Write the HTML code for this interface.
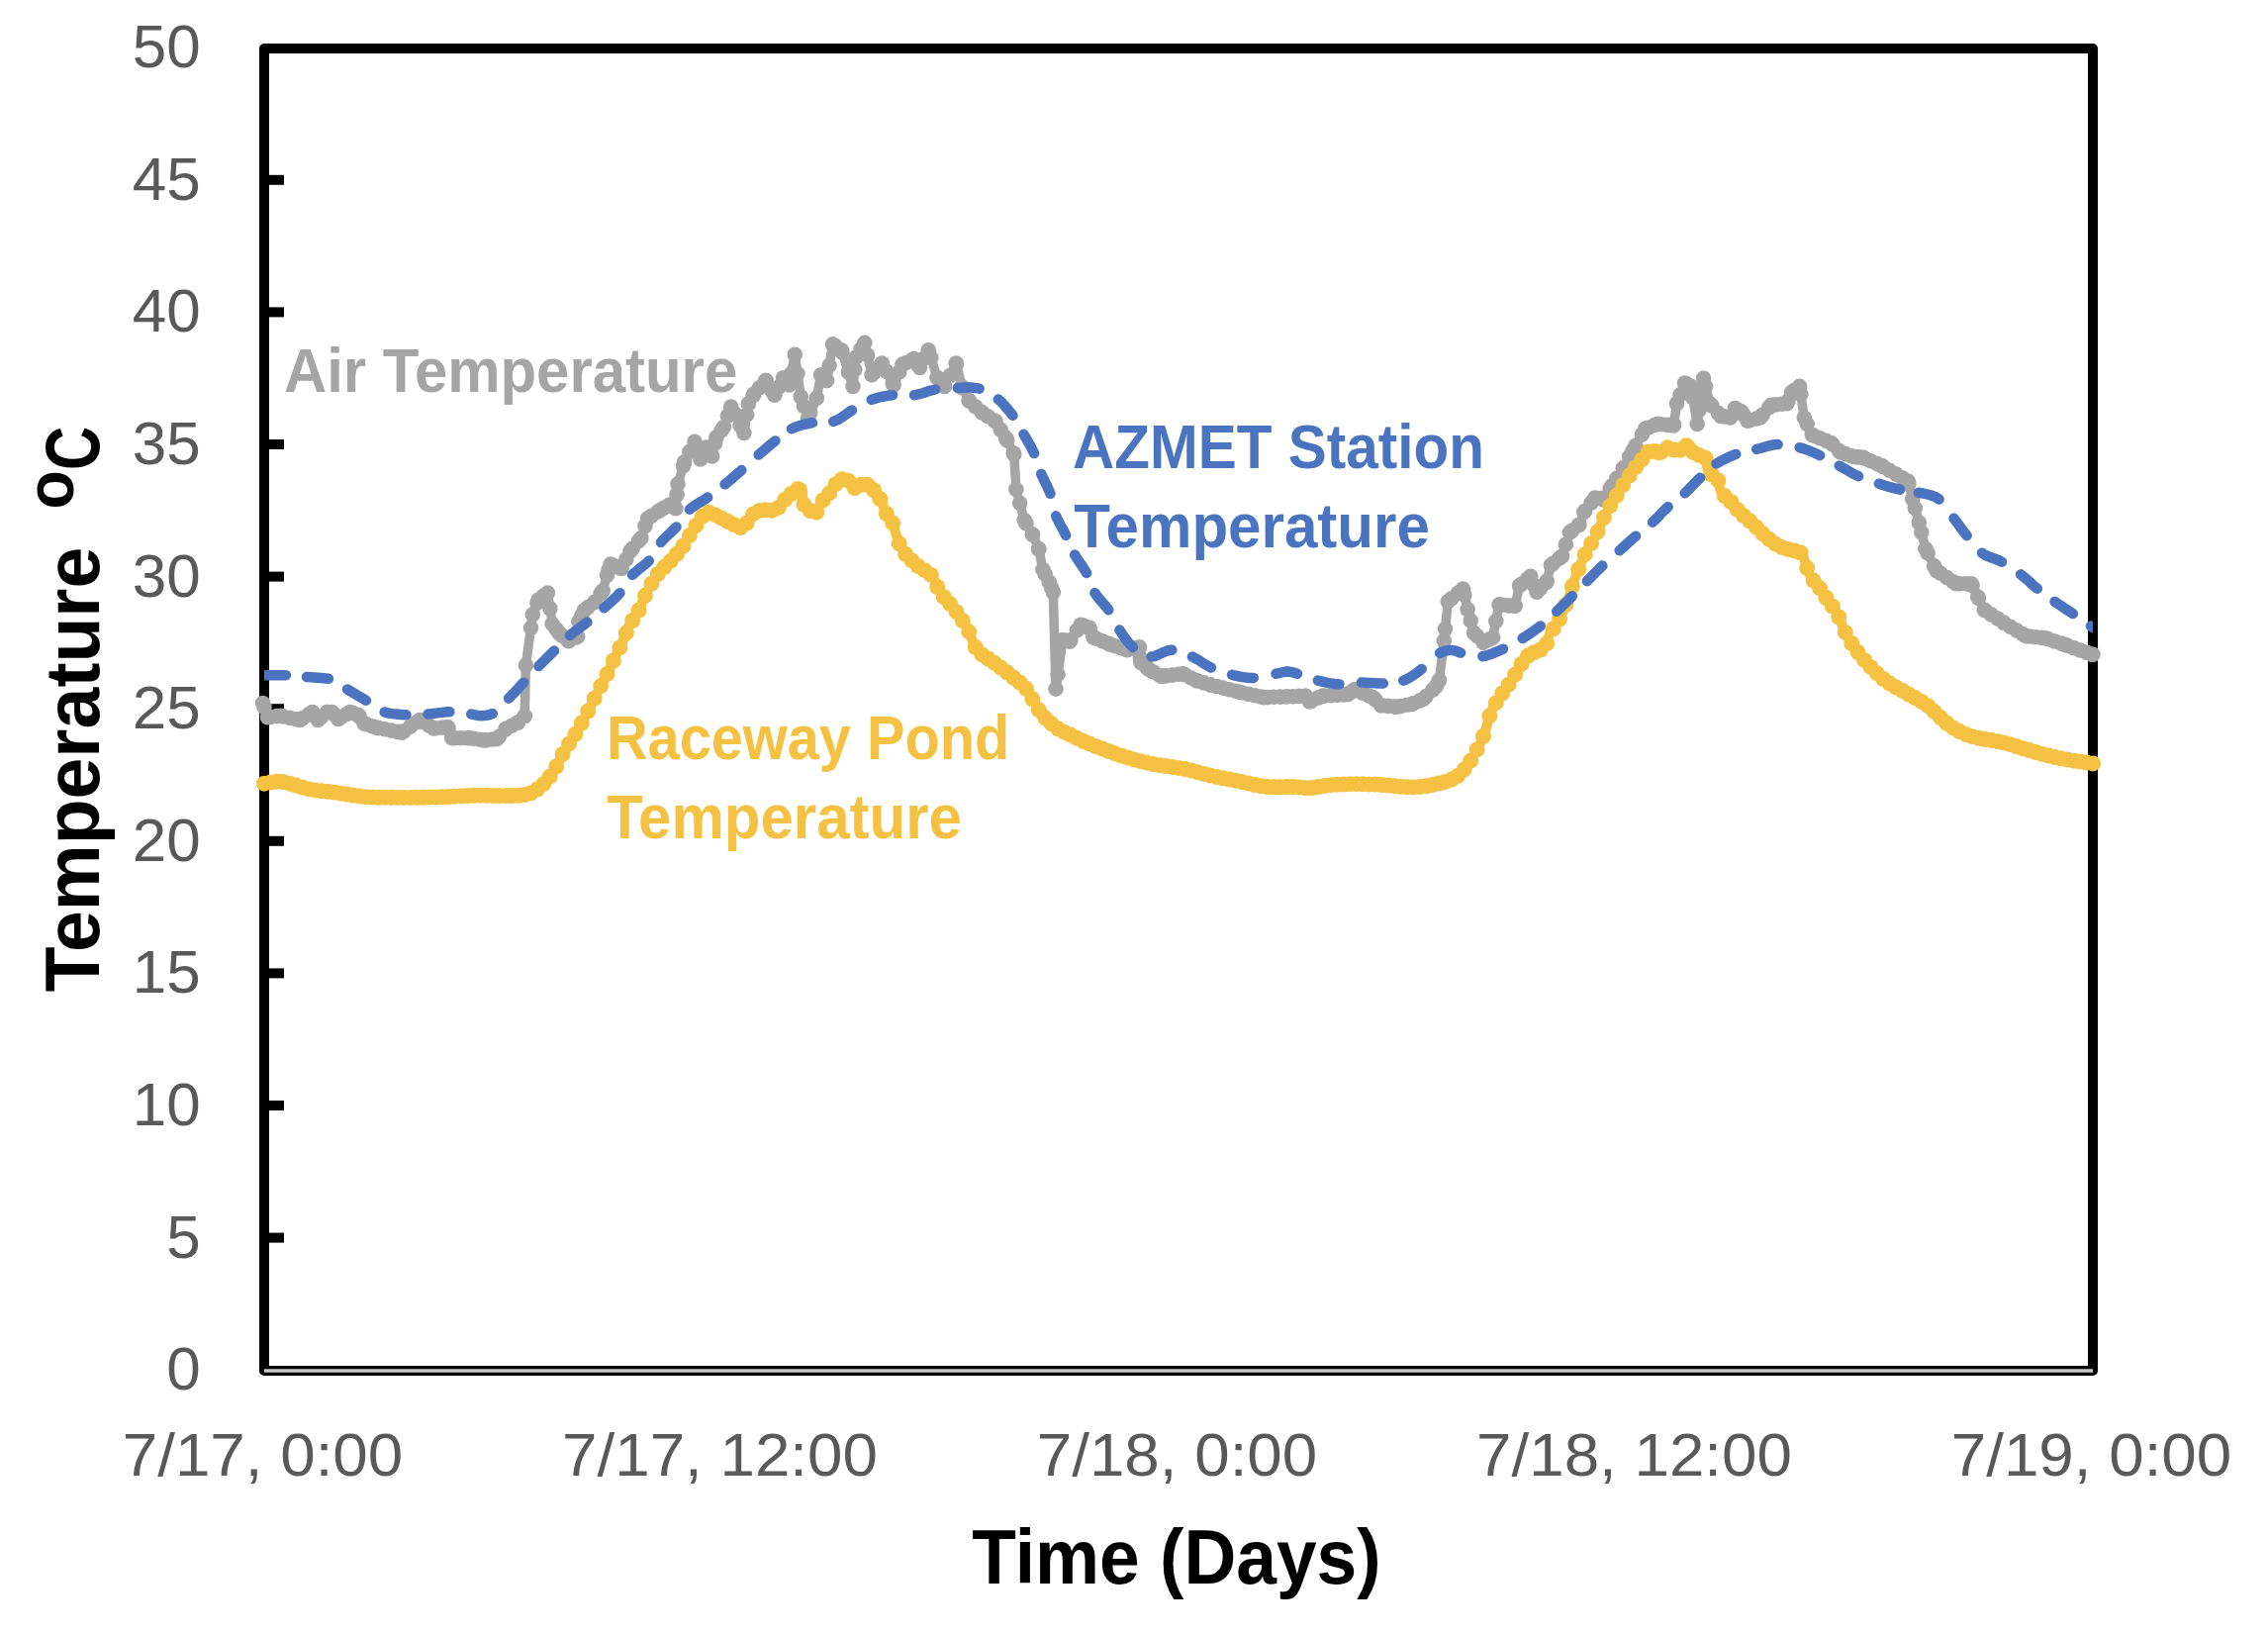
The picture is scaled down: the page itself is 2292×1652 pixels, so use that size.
<!DOCTYPE html>
<html><head><meta charset="utf-8"><style>html,body{margin:0;padding:0;background:#fff;width:2292px;height:1652px;overflow:hidden}svg{display:block}</style></head>
<body>
<svg width="2292" height="1652" viewBox="0 0 2292 1652">
<rect width="2292" height="1652" fill="#fff"/>
<line x1="267" y1="1385" x2="2115" y2="1385" stroke="#000" stroke-width="10"/>
<rect x="267" y="49" width="1848" height="1336" fill="none" stroke="#000" stroke-width="10" stroke-linejoin="round"/>
<line x1="267" y1="1385" x2="2115" y2="1385" stroke="#c8c8c8" stroke-width="3.6"/>
<line x1="267" y1="1250.6" x2="287" y2="1250.6" stroke="#000" stroke-width="10"/>
<line x1="267" y1="1117" x2="287" y2="1117" stroke="#000" stroke-width="10"/>
<line x1="267" y1="983.4" x2="287" y2="983.4" stroke="#000" stroke-width="10"/>
<line x1="267" y1="849.8" x2="287" y2="849.8" stroke="#000" stroke-width="10"/>
<line x1="267" y1="716.2" x2="287" y2="716.2" stroke="#000" stroke-width="10"/>
<line x1="267" y1="582.6" x2="287" y2="582.6" stroke="#000" stroke-width="10"/>
<line x1="267" y1="449" x2="287" y2="449" stroke="#000" stroke-width="10"/>
<line x1="267" y1="315.4" x2="287" y2="315.4" stroke="#000" stroke-width="10"/>
<line x1="267" y1="181.8" x2="287" y2="181.8" stroke="#000" stroke-width="10"/>
<defs><clipPath id="pc"><rect x="267" y="29" width="1848" height="1356"/></clipPath></defs>
<path clip-path="url(#pc)" d="M265.6 710.5 L270.5 724.7 L283.2 723.2 L303 727.5 L315.7 719.5 L321.3 727.5 L330.5 719.5 L335.5 719.5 L341.8 726.5 L353.8 719.5 L362.3 722.5 L368 731 L380 735.1 L406 740.2 L424.3 727.5 L438.4 735.9 L452.5 734.5 L456.8 745.8 L475.1 745.8 L489.2 747.9 L502.3 746.6 L511.6 736.1 L523.2 730.3 L530.2 723.4 L531.4 672.2 L538.3 621.1 L544.2 606 L553.4 599 L558.1 630.4 L565.1 639.7 L574.4 647.8 L583.7 643.2 L584.8 628.1 L590.6 616.5 L601.1 608.3 L609.2 596.7 L615 575.8 L617.1 570.1 L628.1 574.5 L636.9 556.9 L647.9 543.7 L654.5 523.9 L667.8 515.1 L676.6 510 L682.9 513.8 L685 489 L691.7 466.8 L702 446.2 L707.9 463.9 L713.8 452.1 L719.6 460.9 L724 441.8 L731.4 431.6 L738.7 411 L751.9 437.4 L756.3 408.1 L762.2 397.8 L773.9 384.6 L782.8 399.3 L791.6 381.7 L797.4 389 L803.3 358.2 L809.2 400.7 L816.5 422.8 L825.3 402.2 L829.7 378.7 L835.6 384.6 L841.5 347.9 L850.3 353.8 L862 390.5 L865 361.1 L873.8 346.4 L881.1 378.7 L891.4 367 L903.1 389 L911.9 368.4 L923.7 362.6 L929.5 371.4 L938.3 353.8 L947.2 381.7 L954.5 390.5 L966.2 367 L972.1 390.5 L979.4 405.1 L992.7 416.9 L1006.1 425.8 L1016.5 442.4 L1024.8 459 L1026.9 494.4 L1035.2 525.6 L1043.5 540.2 L1049.8 554.7 L1053.9 575.5 L1060.2 588 L1064.3 598.4 L1067 696.1 L1073.9 646.8 L1080.9 648.2 L1092.2 631.3 L1100.7 634.1 L1104.9 644 L1121.8 651 L1138.8 656.7 L1151.5 653.9 L1152.9 669.4 L1161.3 676.4 L1174 683.5 L1195.2 680.7 L1209.3 687.7 L1223.4 692 L1251.6 699 L1277 704.7 L1319.4 703.2 L1323.6 708.9 L1336.3 703.2 L1362.3 701.6 L1368.6 696.8 L1387.7 704.7 L1395.7 712.7 L1411.6 714.3 L1427.5 711.1 L1438.6 706.3 L1451.3 693.6 L1454.5 687.2 L1459.3 647.5 L1463.3 607.7 L1478.4 595 L1483.1 615.7 L1489.5 639.5 L1499 649.1 L1508.6 644.3 L1515 610.9 L1530.9 612.5 L1535.6 591.8 L1546.8 582.3 L1553.1 598.2 L1562.7 588.6 L1567.4 571.1 L1578.6 562 L1586.4 538.1 L1595.9 530.2 L1600.7 517.5 L1611.8 503.1 L1619.8 504.7 L1629.3 490.4 L1640.4 472.9 L1650 455.4 L1662.7 433.2 L1675.4 428.4 L1691.3 430 L1694.5 407.7 L1702.5 387 L1708.8 390.2 L1715.2 428.4 L1721.5 382.3 L1727.9 407.7 L1739 420.4 L1748.6 422 L1753.4 412.5 L1759.7 415.7 L1766.1 425.2 L1778.8 422 L1789.9 409.3 L1805.8 407.7 L1810.6 396.6 L1818.6 390.2 L1823.3 422 L1831.3 439.5 L1850.4 447.5 L1859.9 457 L1874.2 461.8 L1882 462 L1901.8 470.8 L1928.3 486.2 L1932.7 503.9 L1939.3 528.1 L1945.9 554.5 L1956.9 576.5 L1976.7 589.7 L1992.1 589.7 L1998.7 603 L2005.3 616.2 L2025.2 629.4 L2047.2 642.6 L2067 644.8 L2086.8 651.4 L2114 661.3" fill="none" stroke="#a5a5a5" stroke-width="9.5" stroke-linejoin="round" stroke-linecap="round"/>
<g fill="#a5a5a5"><circle cx="267" cy="714.6" r="7.8"/><circle cx="273.4" cy="724.4" r="7.8"/><circle cx="279.8" cy="723.6" r="7.8"/><circle cx="286.2" cy="723.9" r="7.8"/><circle cx="292.7" cy="725.3" r="7.8"/><circle cx="299.1" cy="726.6" r="7.8"/><circle cx="305.5" cy="725.9" r="7.8"/><circle cx="311.9" cy="721.9" r="7.8"/><circle cx="318.3" cy="723.3" r="7.8"/><circle cx="324.8" cy="724.5" r="7.8"/><circle cx="331.2" cy="719.5" r="7.8"/><circle cx="337.6" cy="721.8" r="7.8"/><circle cx="344" cy="725.2" r="7.8"/><circle cx="350.4" cy="721.5" r="7.8"/><circle cx="356.8" cy="720.6" r="7.8"/><circle cx="363.2" cy="723.9" r="7.8"/><circle cx="369.7" cy="731.6" r="7.8"/><circle cx="376.1" cy="733.8" r="7.8"/><circle cx="382.5" cy="735.6" r="7.8"/><circle cx="388.9" cy="736.8" r="7.8"/><circle cx="395.3" cy="738.1" r="7.8"/><circle cx="401.8" cy="739.4" r="7.8"/><circle cx="408.2" cy="738.7" r="7.8"/><circle cx="414.6" cy="734.2" r="7.8"/><circle cx="421" cy="729.8" r="7.8"/><circle cx="427.4" cy="729.4" r="7.8"/><circle cx="433.8" cy="733.2" r="7.8"/><circle cx="440.2" cy="735.7" r="7.8"/><circle cx="446.7" cy="735.1" r="7.8"/><circle cx="453.1" cy="736" r="7.8"/><circle cx="459.5" cy="745.8" r="7.8"/><circle cx="465.9" cy="745.8" r="7.8"/><circle cx="472.3" cy="745.8" r="7.8"/><circle cx="478.8" cy="746.3" r="7.8"/><circle cx="485.2" cy="747.3" r="7.8"/><circle cx="491.6" cy="747.7" r="7.8"/><circle cx="498" cy="747" r="7.8"/><circle cx="504.4" cy="744.2" r="7.8"/><circle cx="510.8" cy="737" r="7.8"/><circle cx="517.2" cy="733.3" r="7.8"/><circle cx="523.7" cy="729.8" r="7.8"/><circle cx="530.1" cy="723.5" r="7.8"/><circle cx="536.5" cy="634.4" r="7.8"/><circle cx="542.9" cy="609.3" r="7.8"/><circle cx="549.3" cy="602.1" r="7.8"/><circle cx="555.8" cy="614.7" r="7.8"/><circle cx="562.2" cy="635.8" r="7.8"/><circle cx="568.6" cy="642.7" r="7.8"/><circle cx="575" cy="647.5" r="7.8"/><circle cx="581.4" cy="644.3" r="7.8"/><circle cx="587.8" cy="622" r="7.8"/><circle cx="594.2" cy="613.6" r="7.8"/><circle cx="600.7" cy="608.6" r="7.8"/><circle cx="607.1" cy="599.7" r="7.8"/><circle cx="613.5" cy="581.2" r="7.8"/><circle cx="619.9" cy="571.2" r="7.8"/><circle cx="626.3" cy="573.8" r="7.8"/><circle cx="632.8" cy="565.2" r="7.8"/><circle cx="639.2" cy="554.2" r="7.8"/><circle cx="645.6" cy="546.5" r="7.8"/><circle cx="652" cy="531.4" r="7.8"/><circle cx="658.4" cy="521.3" r="7.8"/><circle cx="664.8" cy="517.1" r="7.8"/><circle cx="671.2" cy="513.1" r="7.8"/><circle cx="677.7" cy="510.6" r="7.8"/><circle cx="684.1" cy="499.8" r="7.8"/><circle cx="690.5" cy="470.8" r="7.8"/><circle cx="696.9" cy="456.4" r="7.8"/><circle cx="703.3" cy="450.2" r="7.8"/><circle cx="709.8" cy="460.2" r="7.8"/><circle cx="716.2" cy="455.7" r="7.8"/><circle cx="722.6" cy="447.9" r="7.8"/><circle cx="729" cy="434.9" r="7.8"/><circle cx="735.4" cy="420.3" r="7.8"/><circle cx="741.8" cy="417.3" r="7.8"/><circle cx="748.2" cy="430.1" r="7.8"/><circle cx="754.7" cy="419" r="7.8"/><circle cx="761.1" cy="399.7" r="7.8"/><circle cx="767.5" cy="391.8" r="7.8"/><circle cx="773.9" cy="384.6" r="7.8"/><circle cx="780.3" cy="395.2" r="7.8"/><circle cx="786.8" cy="391.4" r="7.8"/><circle cx="793.2" cy="383.7" r="7.8"/><circle cx="799.6" cy="377.6" r="7.8"/><circle cx="806" cy="377.6" r="7.8"/><circle cx="812.4" cy="410.4" r="7.8"/><circle cx="818.8" cy="417.3" r="7.8"/><circle cx="825.2" cy="402.3" r="7.8"/><circle cx="831.7" cy="380.7" r="7.8"/><circle cx="838.1" cy="369.2" r="7.8"/><circle cx="844.5" cy="349.9" r="7.8"/><circle cx="850.9" cy="355.7" r="7.8"/><circle cx="857.3" cy="375.9" r="7.8"/><circle cx="863.8" cy="373.4" r="7.8"/><circle cx="870.2" cy="352.5" r="7.8"/><circle cx="876.6" cy="358.7" r="7.8"/><circle cx="883" cy="376.5" r="7.8"/><circle cx="889.4" cy="369.3" r="7.8"/><circle cx="895.8" cy="375.3" r="7.8"/><circle cx="902.2" cy="387.4" r="7.8"/><circle cx="908.7" cy="376" r="7.8"/><circle cx="915.1" cy="366.8" r="7.8"/><circle cx="921.5" cy="363.7" r="7.8"/><circle cx="927.9" cy="369" r="7.8"/><circle cx="934.3" cy="361.7" r="7.8"/><circle cx="940.8" cy="361.5" r="7.8"/><circle cx="947.2" cy="381.6" r="7.8"/><circle cx="953.6" cy="389.4" r="7.8"/><circle cx="960" cy="379.5" r="7.8"/><circle cx="966.4" cy="367.9" r="7.8"/><circle cx="972.8" cy="392" r="7.8"/><circle cx="979.2" cy="404.8" r="7.8"/><circle cx="985.7" cy="410.7" r="7.8"/><circle cx="992.1" cy="416.4" r="7.8"/><circle cx="998.5" cy="420.8" r="7.8"/><circle cx="1004.9" cy="425" r="7.8"/><circle cx="1011.3" cy="434.2" r="7.8"/><circle cx="1017.8" cy="444.9" r="7.8"/><circle cx="1024.2" cy="457.7" r="7.8"/><circle cx="1030.6" cy="508.2" r="7.8"/><circle cx="1037" cy="528.8" r="7.8"/><circle cx="1043.4" cy="540.1" r="7.8"/><circle cx="1049.8" cy="554.9" r="7.8"/><circle cx="1056.2" cy="580.2" r="7.8"/><circle cx="1062.7" cy="594.3" r="7.8"/><circle cx="1069.1" cy="681.2" r="7.8"/><circle cx="1075.5" cy="647.1" r="7.8"/><circle cx="1081.9" cy="646.7" r="7.8"/><circle cx="1088.3" cy="637.1" r="7.8"/><circle cx="1094.8" cy="632.1" r="7.8"/><circle cx="1101.2" cy="635.2" r="7.8"/><circle cx="1107.6" cy="645.1" r="7.8"/><circle cx="1114" cy="647.8" r="7.8"/><circle cx="1120.4" cy="650.4" r="7.8"/><circle cx="1126.8" cy="652.7" r="7.8"/><circle cx="1133.2" cy="654.8" r="7.8"/><circle cx="1139.7" cy="656.5" r="7.8"/><circle cx="1146.1" cy="655.1" r="7.8"/><circle cx="1152.5" cy="665" r="7.8"/><circle cx="1158.9" cy="674.4" r="7.8"/><circle cx="1165.3" cy="678.7" r="7.8"/><circle cx="1171.8" cy="682.2" r="7.8"/><circle cx="1178.2" cy="682.9" r="7.8"/><circle cx="1184.6" cy="682.1" r="7.8"/><circle cx="1191" cy="681.3" r="7.8"/><circle cx="1197.4" cy="681.8" r="7.8"/><circle cx="1203.8" cy="685" r="7.8"/><circle cx="1210.2" cy="688" r="7.8"/><circle cx="1216.7" cy="689.9" r="7.8"/><circle cx="1223.1" cy="691.9" r="7.8"/><circle cx="1229.5" cy="693.5" r="7.8"/><circle cx="1235.9" cy="695.1" r="7.8"/><circle cx="1242.3" cy="696.7" r="7.8"/><circle cx="1248.8" cy="698.3" r="7.8"/><circle cx="1255.2" cy="699.8" r="7.8"/><circle cx="1261.6" cy="701.2" r="7.8"/><circle cx="1268" cy="702.7" r="7.8"/><circle cx="1274.4" cy="704.1" r="7.8"/><circle cx="1280.8" cy="704.6" r="7.8"/><circle cx="1287.2" cy="704.3" r="7.8"/><circle cx="1293.7" cy="704.1" r="7.8"/><circle cx="1300.1" cy="703.9" r="7.8"/><circle cx="1306.5" cy="703.7" r="7.8"/><circle cx="1312.9" cy="703.4" r="7.8"/><circle cx="1319.3" cy="703.2" r="7.8"/><circle cx="1325.8" cy="707.9" r="7.8"/><circle cx="1332.2" cy="705.1" r="7.8"/><circle cx="1338.6" cy="703.1" r="7.8"/><circle cx="1345" cy="702.7" r="7.8"/><circle cx="1351.4" cy="702.3" r="7.8"/><circle cx="1357.8" cy="701.9" r="7.8"/><circle cx="1364.2" cy="700.1" r="7.8"/><circle cx="1370.7" cy="697.7" r="7.8"/><circle cx="1377.1" cy="700.3" r="7.8"/><circle cx="1383.5" cy="703" r="7.8"/><circle cx="1389.9" cy="706.9" r="7.8"/><circle cx="1396.3" cy="712.8" r="7.8"/><circle cx="1402.8" cy="713.4" r="7.8"/><circle cx="1409.2" cy="714.1" r="7.8"/><circle cx="1415.6" cy="713.5" r="7.8"/><circle cx="1422" cy="712.2" r="7.8"/><circle cx="1428.4" cy="710.7" r="7.8"/><circle cx="1434.8" cy="707.9" r="7.8"/><circle cx="1441.2" cy="703.6" r="7.8"/><circle cx="1447.7" cy="697.2" r="7.8"/><circle cx="1454.1" cy="688" r="7.8"/><circle cx="1460.5" cy="635.6" r="7.8"/><circle cx="1466.9" cy="604.7" r="7.8"/><circle cx="1473.3" cy="599.3" r="7.8"/><circle cx="1479.8" cy="600.9" r="7.8"/><circle cx="1486.2" cy="627.1" r="7.8"/><circle cx="1492.6" cy="642.6" r="7.8"/><circle cx="1499" cy="649.1" r="7.8"/><circle cx="1505.4" cy="645.9" r="7.8"/><circle cx="1511.8" cy="627.4" r="7.8"/><circle cx="1518.2" cy="611.2" r="7.8"/><circle cx="1524.7" cy="611.9" r="7.8"/><circle cx="1531.1" cy="611.7" r="7.8"/><circle cx="1537.5" cy="590.2" r="7.8"/><circle cx="1543.9" cy="584.7" r="7.8"/><circle cx="1550.3" cy="591.2" r="7.8"/><circle cx="1556.8" cy="594.5" r="7.8"/><circle cx="1563.2" cy="586.9" r="7.8"/><circle cx="1569.6" cy="569.3" r="7.8"/><circle cx="1576" cy="564.1" r="7.8"/><circle cx="1582.4" cy="550.3" r="7.8"/><circle cx="1588.8" cy="536.1" r="7.8"/><circle cx="1595.2" cy="530.7" r="7.8"/><circle cx="1601.7" cy="516.2" r="7.8"/><circle cx="1608.1" cy="507.9" r="7.8"/><circle cx="1614.5" cy="503.6" r="7.8"/><circle cx="1620.9" cy="503" r="7.8"/><circle cx="1627.3" cy="493.4" r="7.8"/><circle cx="1633.8" cy="483.4" r="7.8"/><circle cx="1640.2" cy="473.3" r="7.8"/><circle cx="1646.6" cy="461.6" r="7.8"/><circle cx="1653" cy="450.2" r="7.8"/><circle cx="1659.4" cy="438.9" r="7.8"/><circle cx="1665.8" cy="432" r="7.8"/><circle cx="1672.2" cy="429.6" r="7.8"/><circle cx="1678.7" cy="428.7" r="7.8"/><circle cx="1685.1" cy="429.4" r="7.8"/><circle cx="1691.5" cy="428.6" r="7.8"/><circle cx="1697.9" cy="398.9" r="7.8"/><circle cx="1704.3" cy="387.9" r="7.8"/><circle cx="1710.8" cy="401.8" r="7.8"/><circle cx="1717.2" cy="414" r="7.8"/><circle cx="1723.6" cy="390.6" r="7.8"/><circle cx="1730" cy="410.1" r="7.8"/><circle cx="1736.4" cy="417.4" r="7.8"/><circle cx="1742.8" cy="421" r="7.8"/><circle cx="1749.2" cy="420.7" r="7.8"/><circle cx="1755.7" cy="413.7" r="7.8"/><circle cx="1762.1" cy="419.2" r="7.8"/><circle cx="1768.5" cy="424.6" r="7.8"/><circle cx="1774.9" cy="423" r="7.8"/><circle cx="1781.3" cy="419.1" r="7.8"/><circle cx="1787.8" cy="411.8" r="7.8"/><circle cx="1794.2" cy="408.9" r="7.8"/><circle cx="1800.6" cy="408.2" r="7.8"/><circle cx="1807" cy="404.9" r="7.8"/><circle cx="1813.4" cy="394.3" r="7.8"/><circle cx="1819.8" cy="398.5" r="7.8"/><circle cx="1826.2" cy="428.5" r="7.8"/><circle cx="1832.7" cy="440.1" r="7.8"/><circle cx="1839.1" cy="442.8" r="7.8"/><circle cx="1845.5" cy="445.4" r="7.8"/><circle cx="1851.9" cy="449" r="7.8"/><circle cx="1858.3" cy="455.4" r="7.8"/><circle cx="1864.8" cy="458.6" r="7.8"/><circle cx="1871.2" cy="460.8" r="7.8"/><circle cx="1877.6" cy="461.9" r="7.8"/><circle cx="1884" cy="462.9" r="7.8"/><circle cx="1890.4" cy="465.7" r="7.8"/><circle cx="1896.8" cy="468.6" r="7.8"/><circle cx="1903.2" cy="471.6" r="7.8"/><circle cx="1909.7" cy="475.4" r="7.8"/><circle cx="1916.1" cy="479.1" r="7.8"/><circle cx="1922.5" cy="482.8" r="7.8"/><circle cx="1928.9" cy="488.7" r="7.8"/><circle cx="1935.3" cy="513.6" r="7.8"/><circle cx="1941.8" cy="537.9" r="7.8"/><circle cx="1948.2" cy="559" r="7.8"/><circle cx="1954.6" cy="571.9" r="7.8"/><circle cx="1961" cy="579.2" r="7.8"/><circle cx="1967.4" cy="583.5" r="7.8"/><circle cx="1973.8" cy="587.8" r="7.8"/><circle cx="1980.2" cy="589.7" r="7.8"/><circle cx="1986.7" cy="589.7" r="7.8"/><circle cx="1993.1" cy="591.7" r="7.8"/><circle cx="1999.5" cy="604.6" r="7.8"/><circle cx="2005.9" cy="616.6" r="7.8"/><circle cx="2012.3" cy="620.9" r="7.8"/><circle cx="2018.8" cy="625.1" r="7.8"/><circle cx="2025.2" cy="629.4" r="7.8"/><circle cx="2031.6" cy="633.2" r="7.8"/><circle cx="2038" cy="637.1" r="7.8"/><circle cx="2044.4" cy="640.9" r="7.8"/><circle cx="2050.8" cy="643" r="7.8"/><circle cx="2057.2" cy="643.7" r="7.8"/><circle cx="2063.7" cy="644.4" r="7.8"/><circle cx="2070.1" cy="645.8" r="7.8"/><circle cx="2076.5" cy="648" r="7.8"/><circle cx="2082.9" cy="650.1" r="7.8"/><circle cx="2089.3" cy="652.3" r="7.8"/><circle cx="2095.8" cy="654.7" r="7.8"/><circle cx="2102.2" cy="657" r="7.8"/><circle cx="2108.6" cy="659.3" r="7.8"/><circle cx="2115" cy="661.3" r="7.8"/><circle cx="265.6" cy="710.5" r="7.8"/><circle cx="270.5" cy="724.7" r="7.8"/><circle cx="283.2" cy="723.2" r="7.8"/><circle cx="303" cy="727.5" r="7.8"/><circle cx="315.7" cy="719.5" r="7.8"/><circle cx="321.3" cy="727.5" r="7.8"/><circle cx="330.5" cy="719.5" r="7.8"/><circle cx="335.5" cy="719.5" r="7.8"/><circle cx="341.8" cy="726.5" r="7.8"/><circle cx="353.8" cy="719.5" r="7.8"/><circle cx="362.3" cy="722.5" r="7.8"/><circle cx="368" cy="731" r="7.8"/><circle cx="380" cy="735.1" r="7.8"/><circle cx="406" cy="740.2" r="7.8"/><circle cx="424.3" cy="727.5" r="7.8"/><circle cx="438.4" cy="735.9" r="7.8"/><circle cx="452.5" cy="734.5" r="7.8"/><circle cx="456.8" cy="745.8" r="7.8"/><circle cx="475.1" cy="745.8" r="7.8"/><circle cx="489.2" cy="747.9" r="7.8"/><circle cx="502.3" cy="746.6" r="7.8"/><circle cx="511.6" cy="736.1" r="7.8"/><circle cx="523.2" cy="730.3" r="7.8"/><circle cx="530.2" cy="723.4" r="7.8"/><circle cx="531.4" cy="672.2" r="7.8"/><circle cx="538.3" cy="621.1" r="7.8"/><circle cx="544.2" cy="606" r="7.8"/><circle cx="553.4" cy="599" r="7.8"/><circle cx="558.1" cy="630.4" r="7.8"/><circle cx="565.1" cy="639.7" r="7.8"/><circle cx="574.4" cy="647.8" r="7.8"/><circle cx="583.7" cy="643.2" r="7.8"/><circle cx="584.8" cy="628.1" r="7.8"/><circle cx="590.6" cy="616.5" r="7.8"/><circle cx="601.1" cy="608.3" r="7.8"/><circle cx="609.2" cy="596.7" r="7.8"/><circle cx="615" cy="575.8" r="7.8"/><circle cx="617.1" cy="570.1" r="7.8"/><circle cx="628.1" cy="574.5" r="7.8"/><circle cx="636.9" cy="556.9" r="7.8"/><circle cx="647.9" cy="543.7" r="7.8"/><circle cx="654.5" cy="523.9" r="7.8"/><circle cx="667.8" cy="515.1" r="7.8"/><circle cx="676.6" cy="510" r="7.8"/><circle cx="682.9" cy="513.8" r="7.8"/><circle cx="685" cy="489" r="7.8"/><circle cx="691.7" cy="466.8" r="7.8"/><circle cx="702" cy="446.2" r="7.8"/><circle cx="707.9" cy="463.9" r="7.8"/><circle cx="713.8" cy="452.1" r="7.8"/><circle cx="719.6" cy="460.9" r="7.8"/><circle cx="724" cy="441.8" r="7.8"/><circle cx="731.4" cy="431.6" r="7.8"/><circle cx="738.7" cy="411" r="7.8"/><circle cx="751.9" cy="437.4" r="7.8"/><circle cx="756.3" cy="408.1" r="7.8"/><circle cx="762.2" cy="397.8" r="7.8"/><circle cx="773.9" cy="384.6" r="7.8"/><circle cx="782.8" cy="399.3" r="7.8"/><circle cx="791.6" cy="381.7" r="7.8"/><circle cx="797.4" cy="389" r="7.8"/><circle cx="803.3" cy="358.2" r="7.8"/><circle cx="809.2" cy="400.7" r="7.8"/><circle cx="816.5" cy="422.8" r="7.8"/><circle cx="825.3" cy="402.2" r="7.8"/><circle cx="829.7" cy="378.7" r="7.8"/><circle cx="835.6" cy="384.6" r="7.8"/><circle cx="841.5" cy="347.9" r="7.8"/><circle cx="850.3" cy="353.8" r="7.8"/><circle cx="862" cy="390.5" r="7.8"/><circle cx="865" cy="361.1" r="7.8"/><circle cx="873.8" cy="346.4" r="7.8"/><circle cx="881.1" cy="378.7" r="7.8"/><circle cx="891.4" cy="367" r="7.8"/><circle cx="903.1" cy="389" r="7.8"/><circle cx="911.9" cy="368.4" r="7.8"/><circle cx="923.7" cy="362.6" r="7.8"/><circle cx="929.5" cy="371.4" r="7.8"/><circle cx="938.3" cy="353.8" r="7.8"/><circle cx="947.2" cy="381.7" r="7.8"/><circle cx="954.5" cy="390.5" r="7.8"/><circle cx="966.2" cy="367" r="7.8"/><circle cx="972.1" cy="390.5" r="7.8"/><circle cx="979.4" cy="405.1" r="7.8"/><circle cx="992.7" cy="416.9" r="7.8"/><circle cx="1006.1" cy="425.8" r="7.8"/><circle cx="1016.5" cy="442.4" r="7.8"/><circle cx="1024.8" cy="459" r="7.8"/><circle cx="1026.9" cy="494.4" r="7.8"/><circle cx="1035.2" cy="525.6" r="7.8"/><circle cx="1043.5" cy="540.2" r="7.8"/><circle cx="1049.8" cy="554.7" r="7.8"/><circle cx="1053.9" cy="575.5" r="7.8"/><circle cx="1060.2" cy="588" r="7.8"/><circle cx="1064.3" cy="598.4" r="7.8"/><circle cx="1067" cy="696.1" r="7.8"/><circle cx="1073.9" cy="646.8" r="7.8"/><circle cx="1080.9" cy="648.2" r="7.8"/><circle cx="1092.2" cy="631.3" r="7.8"/><circle cx="1100.7" cy="634.1" r="7.8"/><circle cx="1104.9" cy="644" r="7.8"/><circle cx="1121.8" cy="651" r="7.8"/><circle cx="1138.8" cy="656.7" r="7.8"/><circle cx="1151.5" cy="653.9" r="7.8"/><circle cx="1152.9" cy="669.4" r="7.8"/><circle cx="1161.3" cy="676.4" r="7.8"/><circle cx="1174" cy="683.5" r="7.8"/><circle cx="1195.2" cy="680.7" r="7.8"/><circle cx="1209.3" cy="687.7" r="7.8"/><circle cx="1223.4" cy="692" r="7.8"/><circle cx="1251.6" cy="699" r="7.8"/><circle cx="1277" cy="704.7" r="7.8"/><circle cx="1319.4" cy="703.2" r="7.8"/><circle cx="1323.6" cy="708.9" r="7.8"/><circle cx="1336.3" cy="703.2" r="7.8"/><circle cx="1362.3" cy="701.6" r="7.8"/><circle cx="1368.6" cy="696.8" r="7.8"/><circle cx="1387.7" cy="704.7" r="7.8"/><circle cx="1395.7" cy="712.7" r="7.8"/><circle cx="1411.6" cy="714.3" r="7.8"/><circle cx="1427.5" cy="711.1" r="7.8"/><circle cx="1438.6" cy="706.3" r="7.8"/><circle cx="1451.3" cy="693.6" r="7.8"/><circle cx="1454.5" cy="687.2" r="7.8"/><circle cx="1459.3" cy="647.5" r="7.8"/><circle cx="1463.3" cy="607.7" r="7.8"/><circle cx="1478.4" cy="595" r="7.8"/><circle cx="1483.1" cy="615.7" r="7.8"/><circle cx="1489.5" cy="639.5" r="7.8"/><circle cx="1499" cy="649.1" r="7.8"/><circle cx="1508.6" cy="644.3" r="7.8"/><circle cx="1515" cy="610.9" r="7.8"/><circle cx="1530.9" cy="612.5" r="7.8"/><circle cx="1535.6" cy="591.8" r="7.8"/><circle cx="1546.8" cy="582.3" r="7.8"/><circle cx="1553.1" cy="598.2" r="7.8"/><circle cx="1562.7" cy="588.6" r="7.8"/><circle cx="1567.4" cy="571.1" r="7.8"/><circle cx="1578.6" cy="562" r="7.8"/><circle cx="1586.4" cy="538.1" r="7.8"/><circle cx="1595.9" cy="530.2" r="7.8"/><circle cx="1600.7" cy="517.5" r="7.8"/><circle cx="1611.8" cy="503.1" r="7.8"/><circle cx="1619.8" cy="504.7" r="7.8"/><circle cx="1629.3" cy="490.4" r="7.8"/><circle cx="1640.4" cy="472.9" r="7.8"/><circle cx="1650" cy="455.4" r="7.8"/><circle cx="1662.7" cy="433.2" r="7.8"/><circle cx="1675.4" cy="428.4" r="7.8"/><circle cx="1691.3" cy="430" r="7.8"/><circle cx="1694.5" cy="407.7" r="7.8"/><circle cx="1702.5" cy="387" r="7.8"/><circle cx="1708.8" cy="390.2" r="7.8"/><circle cx="1715.2" cy="428.4" r="7.8"/><circle cx="1721.5" cy="382.3" r="7.8"/><circle cx="1727.9" cy="407.7" r="7.8"/><circle cx="1739" cy="420.4" r="7.8"/><circle cx="1748.6" cy="422" r="7.8"/><circle cx="1753.4" cy="412.5" r="7.8"/><circle cx="1759.7" cy="415.7" r="7.8"/><circle cx="1766.1" cy="425.2" r="7.8"/><circle cx="1778.8" cy="422" r="7.8"/><circle cx="1789.9" cy="409.3" r="7.8"/><circle cx="1805.8" cy="407.7" r="7.8"/><circle cx="1810.6" cy="396.6" r="7.8"/><circle cx="1818.6" cy="390.2" r="7.8"/><circle cx="1823.3" cy="422" r="7.8"/><circle cx="1831.3" cy="439.5" r="7.8"/><circle cx="1850.4" cy="447.5" r="7.8"/><circle cx="1859.9" cy="457" r="7.8"/><circle cx="1874.2" cy="461.8" r="7.8"/><circle cx="1882" cy="462" r="7.8"/><circle cx="1901.8" cy="470.8" r="7.8"/><circle cx="1928.3" cy="486.2" r="7.8"/><circle cx="1932.7" cy="503.9" r="7.8"/><circle cx="1939.3" cy="528.1" r="7.8"/><circle cx="1945.9" cy="554.5" r="7.8"/><circle cx="1956.9" cy="576.5" r="7.8"/><circle cx="1976.7" cy="589.7" r="7.8"/><circle cx="1992.1" cy="589.7" r="7.8"/><circle cx="1998.7" cy="603" r="7.8"/><circle cx="2005.3" cy="616.2" r="7.8"/><circle cx="2025.2" cy="629.4" r="7.8"/><circle cx="2047.2" cy="642.6" r="7.8"/><circle cx="2067" cy="644.8" r="7.8"/><circle cx="2086.8" cy="651.4" r="7.8"/><circle cx="2114" cy="661.3" r="7.8"/></g>
<path clip-path="url(#pc)" d="M267 791.7 L269.2 791.3 L272.4 790.7 L276.1 790.1 L279.8 789.7 L283.2 789.6 L286.1 789.9 L288.8 790.5 L291.5 791.3 L294.2 792.2 L297.3 793.1 L300.6 794 L304.1 795.1 L307.7 796.1 L311.6 797.1 L315.7 798 L320.1 798.7 L324.7 799.2 L329.5 799.7 L334.5 800.2 L339.7 800.8 L345.1 801.6 L350.7 802.6 L356.4 803.6 L362.2 804.4 L367.9 805.1 L373.5 805.5 L379.2 805.7 L384.8 805.7 L390.5 805.8 L396.1 805.8 L401.7 805.9 L407.4 805.9 L413 805.9 L418.7 805.9 L424.3 805.8 L429.9 805.7 L435.6 805.6 L441.2 805.5 L446.9 805.3 L452.5 805.1 L457.9 804.8 L463 804.5 L468.2 804.2 L474 803.9 L480.7 803.7 L489.1 803.7 L498.8 803.9 L508.9 804.1 L518.3 804.1 L525.9 803.7 L531.3 802.9 L535.4 801.8 L538.5 800.4 L541.2 798.7 L544.2 796.6 L547.3 794.1 L550.3 791.3 L553.1 788.1 L555.7 784.7 L558.3 781.1 L560.7 777.2 L563 772.9 L565.3 768.5 L567.5 764.1 L569.7 760 L572 756.2 L574.3 752.7 L576.6 749.3 L579 745.7 L581.3 742 L583.6 738 L586 733.9 L588.3 729.7 L590.7 725.4 L593 721 L595.4 716.4 L597.8 711.6 L600.1 706.8 L602.4 702.1 L604.6 697.8 L606.6 693.9 L608.5 690.4 L610.4 687.1 L612.2 683.8 L613.9 680.4 L615.6 676.9 L617.2 673.4 L618.8 669.9 L620.4 666.4 L622 663 L623.7 659.7 L625.4 656.3 L627 653.1 L628.6 649.9 L630.1 646.7 L631.4 643.5 L632.5 640.4 L633.6 637.3 L634.7 634.3 L635.9 631.6 L637.3 629.4 L638.6 627.6 L640.1 625.9 L641.7 623.7 L643.5 620.8 L645.5 616.7 L647.7 611.8 L649.9 606.4 L652.2 601.2 L654.5 596.6 L656.7 592.6 L658.9 588.8 L661.2 585.3 L663.4 582 L665.6 579 L667.8 576.4 L669.9 574.3 L672 572.3 L674.3 570.3 L676.6 567.9 L679.1 565.1 L681.8 562.2 L684.6 559 L687.3 555.8 L689.8 552.5 L692.1 549.1 L694.3 545.6 L696.4 542 L698.5 538.4 L700.8 534.9 L703.3 531.2 L705.8 527.1 L708.5 523.3 L711.2 520.2 L713.8 518.2 L716.5 517.7 L719.1 518.4 L721.8 519.7 L724.5 521.3 L727 522.6 L729.4 523.7 L731.8 524.9 L734.1 526.1 L736.4 527.3 L738.7 528.4 L741.1 529.7 L743.4 531.2 L745.8 532.5 L748.1 533.2 L750.5 532.8 L752.8 530.9 L755.2 527.8 L757.5 524.1 L759.9 520.7 L762.2 518.2 L764.6 516.8 L766.9 516 L769.3 515.6 L771.6 515.4 L773.9 515.2 L776.1 515.1 L778.3 515.4 L780.4 515.7 L782.3 515.7 L784.2 515.2 L785.8 514 L787.2 512.4 L788.5 510.5 L789.9 508.4 L791.6 506.4 L793.7 504.3 L796.2 502 L798.7 499.8 L801.2 497.7 L803.3 496.1 L805.1 494.7 L806.8 493.5 L808.3 492.6 L809.6 492.4 L810.6 493.2 L811.1 495.3 L811.1 498.7 L811 502.5 L811.2 506.3 L812.1 509.4 L813.9 511.9 L816.4 514.4 L819.1 516.4 L821.8 517.8 L823.9 518.2 L825.4 517.4 L826.4 515.5 L827.3 513 L828.3 510.4 L829.7 507.9 L831.5 505.6 L833.6 503.2 L835.9 500.8 L838.1 498.4 L840 496.1 L841.6 493.8 L843.1 491.5 L844.4 489.3 L845.8 487.4 L847.3 485.9 L849 484.9 L850.9 484.2 L852.7 483.8 L854.5 483.9 L856.1 484.4 L857.4 485.7 L858.4 487.8 L859.4 490.1 L860.5 492.1 L862 493.2 L864 493 L866.4 491.8 L868.9 490.4 L871.4 489.1 L873.8 488.8 L876 489.4 L878.1 490.7 L880.2 492.3 L882.2 494.2 L884 496.1 L885.7 498.2 L887.4 500.6 L888.9 503.2 L890.3 505.7 L891.4 507.9 L892.2 509.8 L892.7 511.6 L893 513.2 L893.5 514.9 L894.3 516.7 L895.5 518.6 L897.1 520.5 L898.7 522.5 L900.3 524.6 L901.7 527 L902.8 529.7 L903.6 532.7 L904.4 535.8 L905.2 538.9 L906.2 542 L907.2 545 L908.2 547.9 L909.3 550.9 L910.7 553.9 L912.5 556.8 L914.9 559.8 L917.7 562.8 L920.8 565.8 L924 568.7 L927 571.3 L930 573.5 L933.1 575.5 L936.2 577.3 L939.1 579.3 L941.6 581.7 L943.6 584.7 L945.2 588 L946.6 591.6 L948.1 595.1 L949.9 598.4 L952.1 601.3 L954.5 604.1 L957 606.8 L959.7 609.6 L962.4 612.9 L965.3 616.6 L968.3 620.7 L971.4 624.9 L974.3 629.3 L977 633.7 L979.2 638.3 L981.2 643.2 L983 648.1 L985 652.7 L987.4 656.6 L990.3 659.8 L993.6 662.3 L997.1 664.6 L1000.6 666.8 L1004 669.1 L1007.3 671.6 L1010.6 674 L1014 676.5 L1017.3 679 L1020.6 681.6 L1024.1 684.4 L1027.7 687.3 L1031.2 690.2 L1034.5 693.2 L1037.3 696.1 L1039.5 699 L1041.2 701.9 L1042.7 704.7 L1044.1 707.6 L1045.6 710.3 L1047.2 712.9 L1048.7 715.5 L1050.3 718 L1052 720.5 L1054.1 723 L1056.6 725.6 L1059.3 728.3 L1062.3 731 L1065.3 733.5 L1068.2 735.7 L1070.9 737.4 L1073.5 738.8 L1076.1 740 L1079 741.3 L1082.3 742.8 L1085.9 744.5 L1089.6 746.4 L1093.7 748.3 L1098.2 750.4 L1103.5 752.6 L1109.8 755 L1116.9 757.7 L1124.5 760.5 L1132 763.1 L1138.8 765.3 L1144.9 767.1 L1150.6 768.7 L1156.1 770 L1161.5 771.3 L1167 772.4 L1172.6 773.4 L1178.3 774.1 L1183.9 774.9 L1189.6 775.6 L1195.2 776.6 L1200.8 777.9 L1206.5 779.3 L1212.1 780.8 L1217.8 782.3 L1223.4 783.7 L1229 784.9 L1234.7 786 L1240.3 787.1 L1246 788.2 L1251.6 789.3 L1257.3 790.5 L1262.9 791.8 L1268.6 793.1 L1274.2 794.2 L1279.9 795 L1285.8 795.3 L1291.9 795.3 L1297.8 795.2 L1303.4 795 L1308.1 795 L1311.8 795.3 L1314.6 795.7 L1317 796.1 L1319.4 796.4 L1322.2 796.4 L1325.6 796.1 L1329.1 795.6 L1332.8 794.9 L1336.5 794.3 L1340 793.8 L1343 793.4 L1345.7 793.1 L1348.5 792.9 L1351.7 792.7 L1355.9 792.5 L1361.1 792.4 L1367.1 792.3 L1373.6 792.2 L1380.6 792.3 L1387.7 792.5 L1395.4 793 L1403.8 793.7 L1412.3 794.5 L1420.4 795.2 L1427.5 795.4 L1433.4 795.2 L1438.4 794.7 L1442.9 794 L1447.1 793.1 L1451.3 792.2 L1455.5 791.2 L1459.6 790.2 L1463.4 789 L1467.1 787.5 L1470.4 785.8 L1473.4 783.7 L1476.1 781.3 L1478.6 778.7 L1480.9 775.9 L1483.1 773.1 L1485.2 770.2 L1487.2 767 L1489.1 763.8 L1490.9 760.5 L1492.7 757.2 L1494.4 753.9 L1496.1 750.5 L1497.6 747 L1499.1 743.4 L1500.6 739.7 L1501.9 735.7 L1503.1 731.4 L1504.3 727.1 L1505.5 722.9 L1507 719 L1508.7 715.5 L1510.5 712.3 L1512.4 709.2 L1514.4 706.2 L1516.5 703.1 L1518.7 699.9 L1520.9 696.7 L1523.3 693.6 L1525.5 690.4 L1527.7 687.2 L1529.7 683.9 L1531.7 680.5 L1533.6 677.2 L1535.4 674.1 L1537.2 671.3 L1538.8 669 L1540.1 667 L1541.5 665.2 L1543.1 663.5 L1545.2 661.8 L1548.1 660.2 L1551.5 658.7 L1555.2 657.3 L1558.5 655.7 L1561.1 653.8 L1562.7 651.6 L1563.6 649.1 L1564.1 646.5 L1564.7 643.8 L1565.8 641.1 L1567.4 638.5 L1569.3 635.9 L1571.3 633.2 L1573.4 630.2 L1575.4 626.8 L1577.4 622.8 L1579.4 618.3 L1581.3 613.5 L1583.2 608.9 L1584.9 604.5 L1586.3 600.7 L1587.4 597.2 L1588.4 593.7 L1589.6 590 L1591.1 585.8 L1593 580.8 L1595.3 575.1 L1597.7 569.2 L1600.1 563.6 L1602.3 558.8 L1604.3 555 L1606.1 552 L1608 549.3 L1609.8 546.4 L1611.8 542.9 L1613.9 538.6 L1616.1 533.7 L1618.4 528.6 L1620.6 523.6 L1622.9 519 L1625.1 514.9 L1627.4 511 L1629.6 507.3 L1631.9 503.6 L1634.1 500 L1636.3 496.4 L1638.5 492.7 L1640.8 489.2 L1643 485.8 L1645.2 482.5 L1647.4 479.4 L1649.6 476.6 L1651.7 473.8 L1654 471 L1656.3 468.2 L1658.9 465 L1661.6 461.4 L1664.4 458.1 L1666.9 455.4 L1669.1 453.8 L1670.7 454 L1672 455.6 L1673.1 457.7 L1674.1 459.5 L1675.4 460.2 L1676.8 459.3 L1678.3 457.5 L1679.8 455.3 L1681.5 453.3 L1683.4 452.2 L1685.7 452.3 L1688.2 453.1 L1690.9 454.3 L1693.6 455.2 L1696.1 455.4 L1698.5 454.5 L1701 452.8 L1703.3 450.9 L1705.4 449.5 L1707.2 449.1 L1708.5 450.1 L1709.3 452.1 L1709.9 454.5 L1710.7 456.9 L1712 458.6 L1713.9 459.5 L1716.4 459.8 L1718.9 460 L1721.3 460.6 L1723.1 461.8 L1724.1 464.1 L1724.6 467 L1724.9 470.3 L1725.4 473.5 L1726.3 476.1 L1727.9 478 L1730 479.5 L1732.2 480.9 L1734.3 482.3 L1735.9 484.1 L1736.8 486.4 L1737.3 489 L1737.6 491.7 L1738.1 494.4 L1739 496.8 L1740.5 498.9 L1742.4 500.7 L1744.5 502.5 L1746.6 504.3 L1748.6 506.3 L1750.5 508.4 L1752.2 510.7 L1754.1 512.9 L1756 515.2 L1758.1 517.5 L1760.5 519.7 L1763 521.9 L1765.6 524 L1768.3 526.3 L1770.9 528.6 L1773.4 531.1 L1776 533.7 L1778.5 536.4 L1781.1 538.9 L1783.6 541.3 L1786.1 543.5 L1788.7 545.6 L1791.2 547.6 L1793.8 549.3 L1796.3 550.9 L1798.9 552.2 L1801.5 553.2 L1804 554.1 L1806.6 554.8 L1809 555.6 L1811.4 556.2 L1813.9 556.6 L1816.3 557 L1818.4 557.7 L1820.2 558.8 L1821.6 560.5 L1822.5 562.6 L1823.3 565 L1824.1 567.4 L1824.9 569.9 L1825.8 572.4 L1826.7 575.1 L1827.6 577.7 L1828.5 580.3 L1829.7 582.7 L1831.1 584.7 L1832.6 586.5 L1834.2 588.2 L1835.9 590 L1837.6 592.2 L1839.4 594.8 L1841.3 597.6 L1843.3 600.6 L1845.3 603.6 L1847.2 606.5 L1849.1 609.1 L1851 611.5 L1852.9 614 L1854.8 616.7 L1856.7 620 L1858.6 623.9 L1860.4 628.4 L1862.2 633.2 L1864.3 638 L1866.6 642.6 L1869.2 647 L1872 651.4 L1875.1 655.8 L1878.4 660.2 L1882 664.6 L1886 669.1 L1890.3 673.8 L1894.9 678.4 L1899.5 682.8 L1904 686.6 L1908.4 689.8 L1912.8 692.6 L1917.3 695 L1921.7 697.4 L1926.1 699.9 L1930.5 702.4 L1934.9 704.9 L1939.3 707.3 L1943.7 710 L1948.1 713.1 L1952.5 716.8 L1956.9 721 L1961.3 725.3 L1965.7 729.4 L1970.1 732.9 L1974.3 735.7 L1978.4 738.1 L1982.5 740.2 L1987 742.1 L1992.1 743.9 L1998.2 745.5 L2005.1 746.9 L2012.2 748.1 L2019.1 749.3 L2025.2 750.5 L2030.1 751.8 L2034.3 753 L2038.1 754.3 L2042.3 755.6 L2047.2 757.1 L2053.1 758.8 L2059.6 760.6 L2066.4 762.5 L2073.4 764.3 L2080.2 765.9 L2087.4 767.3 L2095.3 768.6 L2102.9 769.8 L2109.4 770.7 L2114 771.4" fill="none" stroke="#f4c142" stroke-width="10" stroke-linejoin="round" stroke-linecap="round"/>
<g fill="#f4c142"><circle cx="267" cy="791.7" r="8.0"/><circle cx="273.4" cy="790.6" r="8.0"/><circle cx="279.8" cy="789.7" r="8.0"/><circle cx="286.2" cy="790" r="8.0"/><circle cx="292.7" cy="791.7" r="8.0"/><circle cx="299.1" cy="793.6" r="8.0"/><circle cx="305.5" cy="795.5" r="8.0"/><circle cx="311.9" cy="797.2" r="8.0"/><circle cx="318.3" cy="798.4" r="8.0"/><circle cx="324.8" cy="799.2" r="8.0"/><circle cx="331.2" cy="799.8" r="8.0"/><circle cx="337.6" cy="800.5" r="8.0"/><circle cx="344" cy="801.5" r="8.0"/><circle cx="350.4" cy="802.5" r="8.0"/><circle cx="356.8" cy="803.6" r="8.0"/><circle cx="363.2" cy="804.6" r="8.0"/><circle cx="369.7" cy="805.2" r="8.0"/><circle cx="376.1" cy="805.6" r="8.0"/><circle cx="382.5" cy="805.7" r="8.0"/><circle cx="388.9" cy="805.8" r="8.0"/><circle cx="395.3" cy="805.8" r="8.0"/><circle cx="401.8" cy="805.9" r="8.0"/><circle cx="408.2" cy="805.9" r="8.0"/><circle cx="414.6" cy="805.9" r="8.0"/><circle cx="421" cy="805.8" r="8.0"/><circle cx="427.4" cy="805.8" r="8.0"/><circle cx="433.8" cy="805.6" r="8.0"/><circle cx="440.2" cy="805.5" r="8.0"/><circle cx="446.7" cy="805.3" r="8.0"/><circle cx="453.1" cy="805.1" r="8.0"/><circle cx="459.5" cy="804.7" r="8.0"/><circle cx="465.9" cy="804.3" r="8.0"/><circle cx="472.3" cy="804" r="8.0"/><circle cx="478.8" cy="803.8" r="8.0"/><circle cx="485.2" cy="803.7" r="8.0"/><circle cx="491.6" cy="803.8" r="8.0"/><circle cx="498" cy="803.9" r="8.0"/><circle cx="504.4" cy="804.1" r="8.0"/><circle cx="510.8" cy="804.1" r="8.0"/><circle cx="517.2" cy="804.1" r="8.0"/><circle cx="523.7" cy="803.8" r="8.0"/><circle cx="530.1" cy="803.1" r="8.0"/><circle cx="536.5" cy="801.3" r="8.0"/><circle cx="542.9" cy="797.5" r="8.0"/><circle cx="549.3" cy="792.2" r="8.0"/><circle cx="555.8" cy="784.7" r="8.0"/><circle cx="562.2" cy="774.5" r="8.0"/><circle cx="568.6" cy="762" r="8.0"/><circle cx="575" cy="751.7" r="8.0"/><circle cx="581.4" cy="741.8" r="8.0"/><circle cx="587.8" cy="730.6" r="8.0"/><circle cx="594.2" cy="718.6" r="8.0"/><circle cx="600.7" cy="705.7" r="8.0"/><circle cx="607.1" cy="693.1" r="8.0"/><circle cx="613.5" cy="681.2" r="8.0"/><circle cx="619.9" cy="667.5" r="8.0"/><circle cx="626.3" cy="654.4" r="8.0"/><circle cx="632.8" cy="639.6" r="8.0"/><circle cx="639.2" cy="627" r="8.0"/><circle cx="645.6" cy="616.5" r="8.0"/><circle cx="652" cy="601.8" r="8.0"/><circle cx="658.4" cy="589.7" r="8.0"/><circle cx="664.8" cy="580" r="8.0"/><circle cx="671.2" cy="573.1" r="8.0"/><circle cx="677.7" cy="566.7" r="8.0"/><circle cx="684.1" cy="559.6" r="8.0"/><circle cx="690.5" cy="551.5" r="8.0"/><circle cx="696.9" cy="541.1" r="8.0"/><circle cx="703.3" cy="531.1" r="8.0"/><circle cx="709.8" cy="521.8" r="8.0"/><circle cx="716.2" cy="517.8" r="8.0"/><circle cx="722.6" cy="520.2" r="8.0"/><circle cx="729" cy="523.5" r="8.0"/><circle cx="735.4" cy="526.8" r="8.0"/><circle cx="741.8" cy="530.2" r="8.0"/><circle cx="748.2" cy="533.1" r="8.0"/><circle cx="754.7" cy="528.5" r="8.0"/><circle cx="761.1" cy="519.4" r="8.0"/><circle cx="767.5" cy="515.9" r="8.0"/><circle cx="773.9" cy="515.2" r="8.0"/><circle cx="780.3" cy="515.7" r="8.0"/><circle cx="786.8" cy="512.9" r="8.0"/><circle cx="793.2" cy="504.9" r="8.0"/><circle cx="799.6" cy="499" r="8.0"/><circle cx="806" cy="494.1" r="8.0"/><circle cx="812.4" cy="509.8" r="8.0"/><circle cx="818.8" cy="516.2" r="8.0"/><circle cx="825.2" cy="517.5" r="8.0"/><circle cx="831.7" cy="505.4" r="8.0"/><circle cx="838.1" cy="498.4" r="8.0"/><circle cx="844.5" cy="489.2" r="8.0"/><circle cx="850.9" cy="484.2" r="8.0"/><circle cx="857.3" cy="485.7" r="8.0"/><circle cx="863.8" cy="493" r="8.0"/><circle cx="870.2" cy="489.8" r="8.0"/><circle cx="876.6" cy="489.8" r="8.0"/><circle cx="883" cy="495" r="8.0"/><circle cx="889.4" cy="504.1" r="8.0"/><circle cx="895.8" cy="519" r="8.0"/><circle cx="902.2" cy="528.4" r="8.0"/><circle cx="908.7" cy="549.2" r="8.0"/><circle cx="915.1" cy="560" r="8.0"/><circle cx="921.5" cy="566.4" r="8.0"/><circle cx="927.9" cy="572" r="8.0"/><circle cx="934.3" cy="576.2" r="8.0"/><circle cx="940.8" cy="580.9" r="8.0"/><circle cx="947.2" cy="593" r="8.0"/><circle cx="953.6" cy="603" r="8.0"/><circle cx="960" cy="610" r="8.0"/><circle cx="966.4" cy="618.2" r="8.0"/><circle cx="972.8" cy="627.1" r="8.0"/><circle cx="979.2" cy="638.3" r="8.0"/><circle cx="985.7" cy="653.8" r="8.0"/><circle cx="992.1" cy="661.2" r="8.0"/><circle cx="998.5" cy="665.5" r="8.0"/><circle cx="1004.9" cy="669.8" r="8.0"/><circle cx="1011.3" cy="674.5" r="8.0"/><circle cx="1017.8" cy="679.3" r="8.0"/><circle cx="1024.2" cy="684.5" r="8.0"/><circle cx="1030.6" cy="689.7" r="8.0"/><circle cx="1037" cy="695.8" r="8.0"/><circle cx="1043.4" cy="706.3" r="8.0"/><circle cx="1049.8" cy="717.3" r="8.0"/><circle cx="1056.2" cy="725.3" r="8.0"/><circle cx="1062.7" cy="731.3" r="8.0"/><circle cx="1069.1" cy="736.3" r="8.0"/><circle cx="1075.5" cy="739.7" r="8.0"/><circle cx="1081.9" cy="742.6" r="8.0"/><circle cx="1088.3" cy="745.8" r="8.0"/><circle cx="1094.8" cy="748.8" r="8.0"/><circle cx="1101.2" cy="751.6" r="8.0"/><circle cx="1107.6" cy="754.2" r="8.0"/><circle cx="1114" cy="756.6" r="8.0"/><circle cx="1120.4" cy="759" r="8.0"/><circle cx="1126.8" cy="761.3" r="8.0"/><circle cx="1133.2" cy="763.5" r="8.0"/><circle cx="1139.7" cy="765.6" r="8.0"/><circle cx="1146.1" cy="767.4" r="8.0"/><circle cx="1152.5" cy="769.2" r="8.0"/><circle cx="1158.9" cy="770.7" r="8.0"/><circle cx="1165.3" cy="772.1" r="8.0"/><circle cx="1171.8" cy="773.2" r="8.0"/><circle cx="1178.2" cy="774.1" r="8.0"/><circle cx="1184.6" cy="774.9" r="8.0"/><circle cx="1191" cy="775.9" r="8.0"/><circle cx="1197.4" cy="777.1" r="8.0"/><circle cx="1203.8" cy="778.6" r="8.0"/><circle cx="1210.2" cy="780.3" r="8.0"/><circle cx="1216.7" cy="782" r="8.0"/><circle cx="1223.1" cy="783.6" r="8.0"/><circle cx="1229.5" cy="785" r="8.0"/><circle cx="1235.9" cy="786.3" r="8.0"/><circle cx="1242.3" cy="787.5" r="8.0"/><circle cx="1248.8" cy="788.7" r="8.0"/><circle cx="1255.2" cy="790.1" r="8.0"/><circle cx="1261.6" cy="791.5" r="8.0"/><circle cx="1268" cy="793" r="8.0"/><circle cx="1274.4" cy="794.2" r="8.0"/><circle cx="1280.8" cy="795.1" r="8.0"/><circle cx="1287.2" cy="795.3" r="8.0"/><circle cx="1293.7" cy="795.3" r="8.0"/><circle cx="1300.1" cy="795.1" r="8.0"/><circle cx="1306.5" cy="795" r="8.0"/><circle cx="1312.9" cy="795.4" r="8.0"/><circle cx="1319.3" cy="796.3" r="8.0"/><circle cx="1325.8" cy="796.1" r="8.0"/><circle cx="1332.2" cy="795.1" r="8.0"/><circle cx="1338.6" cy="794" r="8.0"/><circle cx="1345" cy="793.2" r="8.0"/><circle cx="1351.4" cy="792.7" r="8.0"/><circle cx="1357.8" cy="792.5" r="8.0"/><circle cx="1364.2" cy="792.3" r="8.0"/><circle cx="1370.7" cy="792.2" r="8.0"/><circle cx="1377.1" cy="792.3" r="8.0"/><circle cx="1383.5" cy="792.4" r="8.0"/><circle cx="1389.9" cy="792.6" r="8.0"/><circle cx="1396.3" cy="793.1" r="8.0"/><circle cx="1402.8" cy="793.6" r="8.0"/><circle cx="1409.2" cy="794.2" r="8.0"/><circle cx="1415.6" cy="794.8" r="8.0"/><circle cx="1422" cy="795.2" r="8.0"/><circle cx="1428.4" cy="795.4" r="8.0"/><circle cx="1434.8" cy="795.1" r="8.0"/><circle cx="1441.2" cy="794.3" r="8.0"/><circle cx="1447.7" cy="793" r="8.0"/><circle cx="1454.1" cy="791.6" r="8.0"/><circle cx="1460.5" cy="789.9" r="8.0"/><circle cx="1466.9" cy="787.6" r="8.0"/><circle cx="1473.3" cy="783.8" r="8.0"/><circle cx="1479.8" cy="777.3" r="8.0"/><circle cx="1486.2" cy="768.7" r="8.0"/><circle cx="1492.6" cy="757.4" r="8.0"/><circle cx="1499" cy="743.8" r="8.0"/><circle cx="1505.4" cy="723.3" r="8.0"/><circle cx="1511.8" cy="710.2" r="8.0"/><circle cx="1518.2" cy="700.5" r="8.0"/><circle cx="1524.7" cy="691.6" r="8.0"/><circle cx="1531.1" cy="681.6" r="8.0"/><circle cx="1537.5" cy="670.9" r="8.0"/><circle cx="1543.9" cy="662.8" r="8.0"/><circle cx="1550.3" cy="659.2" r="8.0"/><circle cx="1556.8" cy="656.5" r="8.0"/><circle cx="1563.2" cy="650.2" r="8.0"/><circle cx="1569.6" cy="635.5" r="8.0"/><circle cx="1576" cy="625.6" r="8.0"/><circle cx="1582.4" cy="610.9" r="8.0"/><circle cx="1588.8" cy="592.4" r="8.0"/><circle cx="1595.2" cy="575.2" r="8.0"/><circle cx="1601.7" cy="560.2" r="8.0"/><circle cx="1608.1" cy="549.1" r="8.0"/><circle cx="1614.5" cy="537.3" r="8.0"/><circle cx="1620.9" cy="523" r="8.0"/><circle cx="1627.3" cy="511.1" r="8.0"/><circle cx="1633.8" cy="500.6" r="8.0"/><circle cx="1640.2" cy="490.2" r="8.0"/><circle cx="1646.6" cy="480.6" r="8.0"/><circle cx="1653" cy="472.2" r="8.0"/><circle cx="1659.4" cy="464.3" r="8.0"/><circle cx="1665.8" cy="456.5" r="8.0"/><circle cx="1672.2" cy="456" r="8.0"/><circle cx="1678.7" cy="456.9" r="8.0"/><circle cx="1685.1" cy="452.3" r="8.0"/><circle cx="1691.5" cy="454.5" r="8.0"/><circle cx="1697.9" cy="454.7" r="8.0"/><circle cx="1704.3" cy="450.2" r="8.0"/><circle cx="1710.8" cy="456.9" r="8.0"/><circle cx="1717.2" cy="459.9" r="8.0"/><circle cx="1723.6" cy="462.8" r="8.0"/><circle cx="1730" cy="479.5" r="8.0"/><circle cx="1736.4" cy="485.4" r="8.0"/><circle cx="1742.8" cy="501.1" r="8.0"/><circle cx="1749.2" cy="507" r="8.0"/><circle cx="1755.7" cy="514.9" r="8.0"/><circle cx="1762.1" cy="521.1" r="8.0"/><circle cx="1768.5" cy="526.5" r="8.0"/><circle cx="1774.9" cy="532.6" r="8.0"/><circle cx="1781.3" cy="539.2" r="8.0"/><circle cx="1787.8" cy="544.8" r="8.0"/><circle cx="1794.2" cy="549.6" r="8.0"/><circle cx="1800.6" cy="552.9" r="8.0"/><circle cx="1807" cy="555" r="8.0"/><circle cx="1813.4" cy="556.5" r="8.0"/><circle cx="1819.8" cy="558.6" r="8.0"/><circle cx="1826.2" cy="573.8" r="8.0"/><circle cx="1832.7" cy="586.6" r="8.0"/><circle cx="1839.1" cy="594.3" r="8.0"/><circle cx="1845.5" cy="604" r="8.0"/><circle cx="1851.9" cy="612.7" r="8.0"/><circle cx="1858.3" cy="623.5" r="8.0"/><circle cx="1864.8" cy="638.9" r="8.0"/><circle cx="1871.2" cy="650.1" r="8.0"/><circle cx="1877.6" cy="659.1" r="8.0"/><circle cx="1884" cy="666.9" r="8.0"/><circle cx="1890.4" cy="673.9" r="8.0"/><circle cx="1896.8" cy="680.3" r="8.0"/><circle cx="1903.2" cy="686" r="8.0"/><circle cx="1909.7" cy="690.6" r="8.0"/><circle cx="1916.1" cy="694.4" r="8.0"/><circle cx="1922.5" cy="697.8" r="8.0"/><circle cx="1928.9" cy="701.5" r="8.0"/><circle cx="1935.3" cy="705.1" r="8.0"/><circle cx="1941.8" cy="708.8" r="8.0"/><circle cx="1948.2" cy="713.2" r="8.0"/><circle cx="1954.6" cy="718.8" r="8.0"/><circle cx="1961" cy="725" r="8.0"/><circle cx="1967.4" cy="730.8" r="8.0"/><circle cx="1973.8" cy="735.4" r="8.0"/><circle cx="1980.2" cy="739.1" r="8.0"/><circle cx="1986.7" cy="742" r="8.0"/><circle cx="1993.1" cy="744.2" r="8.0"/><circle cx="1999.5" cy="745.8" r="8.0"/><circle cx="2005.9" cy="747" r="8.0"/><circle cx="2012.3" cy="748.1" r="8.0"/><circle cx="2018.8" cy="749.2" r="8.0"/><circle cx="2025.2" cy="750.5" r="8.0"/><circle cx="2031.6" cy="752.2" r="8.0"/><circle cx="2038" cy="754.3" r="8.0"/><circle cx="2044.4" cy="756.3" r="8.0"/><circle cx="2050.8" cy="758.1" r="8.0"/><circle cx="2057.2" cy="760" r="8.0"/><circle cx="2063.7" cy="761.8" r="8.0"/><circle cx="2070.1" cy="763.5" r="8.0"/><circle cx="2076.5" cy="765" r="8.0"/><circle cx="2082.9" cy="766.4" r="8.0"/><circle cx="2089.3" cy="767.6" r="8.0"/><circle cx="2095.8" cy="768.7" r="8.0"/><circle cx="2102.2" cy="769.6" r="8.0"/><circle cx="2108.6" cy="770.6" r="8.0"/><circle cx="2115" cy="771.4" r="8.0"/></g>
<path clip-path="url(#pc)" d="M267 682.3 L270.7 682.3 L275.9 682.2 L281.9 682.2 L287.7 682.2 L292.4 682.3 L295.4 682.5 L297.4 682.7 L299.2 683 L301.5 683.3 L305 683.7 L310.5 684.1 L317.4 684.5 L324.7 685 L331.5 685.7 L336.8 686.6 L340.1 687.7 L341.9 689 L343.2 690.5 L344.7 692.2 L347.4 694.3 L351.6 696.9 L356.8 699.9 L362.3 703.2 L367.6 706.3 L372.1 709.1 L375.4 711.5 L377.9 713.7 L380.2 715.7 L382.7 717.5 L386.2 719 L390.9 720.2 L396.5 721.1 L402.4 721.7 L408.1 722.2 L413 722.5 L416.9 722.7 L420 722.6 L423 722.4 L426.1 722.1 L430 721.8 L434.9 721.3 L440.5 720.6 L446.3 719.9 L451.9 719.3 L456.8 719 L460.9 719.1 L464.5 719.5 L467.7 720 L470.7 720.6 L473.7 721.1 L476.5 721.6 L479 722.2 L481.5 722.7 L483.9 723.1 L486.4 723.2 L489.1 723.1 L491.8 722.8 L494.5 722.2 L497.2 721.3 L500 719.9 L502.7 717.8 L505.4 715.2 L508.2 712.3 L511 709.1 L513.9 705.9 L517 702.6 L520.4 699.1 L523.7 695.5 L527 691.9 L530.2 688.5 L533.1 685.4 L535.9 682.4 L538.6 679.4 L541.3 676.5 L544.2 673.4 L547.3 670.2 L550.6 666.9 L554 663.5 L557.3 660.2 L560.4 657.1 L563.2 654.2 L565.9 651.4 L568.5 648.7 L571.3 646 L574.4 643.2 L578 640.2 L582.1 637.1 L586.3 634 L590.4 631 L594.1 628.1 L597.4 625.4 L600.4 623 L603.2 620.6 L606.1 618 L609.2 615.3 L612.6 612.3 L616.3 609.1 L619.9 605.8 L623.4 602.4 L626.6 599 L629.2 595.6 L631.4 592 L633.4 588.5 L635.6 585 L638.3 581.6 L641.7 578.4 L645.5 575.2 L649.5 572.1 L653.4 569 L656.7 565.7 L659.3 562.3 L661.4 558.8 L663.2 555.2 L665.3 551.6 L667.8 548.1 L671 544.5 L674.7 541 L678.5 537.4 L682.2 533.9 L685.4 530.5 L687.9 527.2 L690 524 L691.9 520.9 L693.9 517.9 L696.4 515.1 L699.5 512.6 L702.9 510.3 L706.5 508.1 L710.2 505.9 L713.8 503.5 L717.3 501 L720.8 498.5 L724.2 495.9 L727.8 493.2 L731.4 490.3 L735.2 487.2 L739.1 483.9 L743.1 480.5 L746.9 477.2 L750.5 474.1 L753.6 471.3 L756.4 468.7 L759.2 466.2 L762 463.7 L765.1 460.9 L768.7 457.8 L772.6 454.5 L776.6 451.1 L780.5 447.8 L784.2 444.8 L787.6 442.1 L790.7 439.5 L793.7 437.1 L796.9 434.9 L800.4 433 L804.2 431.4 L808.2 430 L812.4 428.9 L816.6 428 L820.9 427.2 L825.3 426.8 L829.7 426.8 L834.2 426.8 L838.7 426.6 L842.9 425.7 L846.9 424 L850.7 421.6 L854.5 419 L858.2 416.3 L862 413.9 L865.8 411.7 L869.6 409.4 L873.4 407.3 L877.2 405.3 L881.1 403.7 L885.1 402.4 L889.2 401.3 L893.3 400.5 L897.5 399.8 L901.7 399.3 L906 399.1 L910.4 399.3 L914.8 399.5 L919.3 399.6 L923.7 399.3 L928.1 398.4 L932.5 397.2 L936.9 395.7 L941.3 394.4 L945.7 393.4 L950.1 392.8 L954.5 392.4 L958.9 392.1 L963.3 392 L967.7 391.9 L972.2 391.8 L976.7 391.6 L981.2 391.6 L985.5 391.9 L989.7 392.7 L993.7 394 L997.4 395.7 L1001.1 397.8 L1004.7 400.2 L1008.2 402.9 L1011.8 406.2 L1015.4 410 L1018.8 414 L1022 418 L1024.8 421.6 L1026.9 424.7 L1028.5 427.3 L1029.9 430 L1031.3 432.8 L1033.1 436.2 L1035.4 440.3 L1038.1 444.9 L1040.9 449.8 L1043.4 454.6 L1045.6 459 L1047.2 463 L1048.3 466.6 L1049.3 470.2 L1050.4 473.8 L1051.8 477.8 L1053.7 482.2 L1056 486.8 L1058.3 491.6 L1060.4 496.2 L1062.2 500.6 L1063.3 504.6 L1064 508.3 L1064.6 511.9 L1065.3 515.6 L1066.4 519.4 L1068.1 523.5 L1070.2 527.7 L1072.5 531.9 L1074.8 536.1 L1076.8 540.2 L1078.5 544 L1080 547.6 L1081.4 551.2 L1083.1 554.9 L1085.1 558.9 L1087.8 563.3 L1090.9 568 L1094.2 572.8 L1097.2 577.5 L1099.7 581.7 L1101.3 585.4 L1102.3 588.6 L1103.1 591.7 L1104.1 594.9 L1105.9 598.4 L1108.7 602.4 L1112.2 606.6 L1116 611 L1119.5 615.2 L1122.5 619.2 L1124.6 622.8 L1126.2 626 L1127.5 629.2 L1129 632.4 L1130.9 635.8 L1133.4 639.6 L1136.1 643.6 L1139.1 647.6 L1142.2 651.3 L1145.4 654.5 L1148.6 657.2 L1151.9 659.6 L1155.4 661.6 L1158.9 663 L1162.7 663.7 L1166.7 663.1 L1170.9 661.4 L1175.2 659.3 L1179.6 657.5 L1183.9 656.7 L1188.2 657.1 L1192.5 658.3 L1196.7 659.9 L1201 661.8 L1205.1 663.7 L1209.1 665.8 L1213 668.1 L1216.9 670.6 L1220.8 672.9 L1224.8 675 L1228.9 676.8 L1233.2 678.3 L1237.4 679.8 L1241.7 681 L1246 682.1 L1250.2 683 L1254.4 683.9 L1258.6 684.5 L1262.9 684.9 L1267.2 684.9 L1271.8 684.5 L1276.6 683.6 L1281.4 682.6 L1285.9 681.5 L1289.7 680.7 L1292.7 680.1 L1295.1 679.5 L1297.1 679 L1299 678.7 L1301 678.6 L1302.9 678.7 L1304.5 678.9 L1306.2 679.3 L1308.2 679.9 L1310.9 680.7 L1314.4 681.8 L1318.6 683.3 L1323.1 684.9 L1327.7 686.4 L1332.1 687.7 L1336.3 688.7 L1340.5 689.6 L1344.7 690.4 L1348.9 691 L1353.2 691.3 L1357.5 691.3 L1361.8 690.9 L1366.1 690.4 L1370.5 689.9 L1375 689.6 L1379.7 689.7 L1384.5 689.9 L1389.4 690.2 L1394.2 690.5 L1398.8 690.4 L1403.2 690.2 L1407.4 689.9 L1411.5 689.4 L1415.5 688.5 L1419.5 687.2 L1423.5 685.3 L1427.4 682.9 L1431.3 680.2 L1435 677.3 L1438.6 674.5 L1442 671.6 L1445.3 668.4 L1448.5 665.2 L1451.6 662.4 L1454.5 660.2 L1457.3 658.7 L1459.9 657.8 L1462.4 657.3 L1464.8 657.1 L1467.2 657 L1469.4 657.2 L1471.4 657.8 L1473.4 658.6 L1475.7 659.5 L1478.4 660.2 L1481.7 661 L1485.3 662 L1489.3 662.9 L1493.4 663.5 L1497.5 663.4 L1501.8 662.5 L1506.4 661.1 L1511 659.2 L1515.5 657.3 L1519.7 655.4 L1523.4 653.7 L1526.9 651.9 L1530.2 650.1 L1533.6 648.1 L1537.2 645.9 L1541.2 643.3 L1545.6 640.5 L1549.9 637.4 L1554.1 634.4 L1557.9 631.6 L1561.1 629 L1563.9 626.6 L1566.6 624.2 L1569.2 621.6 L1572.2 618.8 L1575.5 615.6 L1579.1 612 L1582.8 608.4 L1586.4 604.8 L1589.7 601.4 L1592.7 598.4 L1595.6 595.5 L1598.3 592.7 L1601.1 589.9 L1604 587 L1607.1 583.9 L1610.2 580.7 L1613.5 577.4 L1616.7 574.2 L1619.9 571.1 L1623.1 568.2 L1626.2 565.4 L1629.4 562.7 L1632.5 560 L1635.7 557.2 L1638.8 554.4 L1642 551.5 L1645.1 548.6 L1648.3 545.8 L1651.6 542.9 L1655 540.1 L1658.6 537.3 L1662.1 534.4 L1665.7 531.6 L1669.1 528.6 L1672.4 525.5 L1675.5 522.3 L1678.6 519 L1681.7 515.8 L1685 512.7 L1688.4 509.8 L1692 506.9 L1695.5 504.2 L1699.1 501.3 L1702.5 498.4 L1705.8 495.3 L1709.1 492 L1712.2 488.7 L1715.3 485.5 L1718.4 482.5 L1721.2 479.7 L1723.9 477.1 L1726.5 474.5 L1729.4 472.1 L1732.7 469.7 L1736.7 467.3 L1741.1 464.8 L1745.8 462.5 L1750.5 460.4 L1755 458.6 L1759.2 457.2 L1763.4 456.2 L1767.4 455.4 L1771.5 454.7 L1775.6 453.8 L1779.7 452.7 L1783.8 451.5 L1787.9 450.4 L1792.1 449.5 L1796.3 449.1 L1800.7 449.1 L1805.2 449.5 L1809.7 450.2 L1814.2 451.1 L1818.6 452.2 L1822.8 453.4 L1827 454.9 L1831 456.5 L1835.1 458.3 L1839.2 460.2 L1843.4 462.2 L1847.6 464.5 L1851.8 466.8 L1856 469.1 L1859.9 471.3 L1863.6 473.3 L1867 475.3 L1870.4 477.3 L1873.8 479.1 L1877.4 480.9 L1881.2 482.5 L1885 484.1 L1889 485.6 L1893.1 487 L1897.4 488.4 L1902 489.8 L1906.7 491.2 L1911.6 492.6 L1916.6 493.9 L1921.7 495.1 L1927.1 496.1 L1932.7 496.9 L1938.4 497.7 L1943.6 498.5 L1948.1 499.5 L1951.6 500.5 L1954.3 501.5 L1956.7 502.6 L1958.9 504 L1961.3 506.1 L1963.9 508.9 L1966.6 512.3 L1969.2 516.1 L1971.9 520 L1974.5 523.7 L1977.1 527.2 L1979.7 530.7 L1982.3 534.3 L1984.9 537.8 L1987.7 541.3 L1990.6 545 L1993.5 548.8 L1996.5 552.5 L1999.7 555.9 L2003.1 558.9 L2006.8 561.2 L2010.7 562.8 L2014.8 564.3 L2019 565.8 L2023 567.7 L2027 570.1 L2031.1 572.7 L2035.2 575.4 L2039.1 578.2 L2042.8 580.9 L2046.1 583.6 L2049.2 586.2 L2052.1 588.9 L2055 591.5 L2058.2 594.2 L2061.5 596.8 L2065 599.5 L2068.5 602.1 L2072.1 604.8 L2075.8 607.4 L2079.6 610 L2083.6 612.7 L2087.6 615.3 L2091.6 617.9 L2095.6 620.6 L2099.8 623.5 L2104.3 626.6 L2108.7 629.6 L2112.4 632.2 L2115 634" fill="none" stroke="#4a74bf" stroke-width="10.5" stroke-linejoin="round" stroke-linecap="round" stroke-dasharray="22.00 21.14 22.00 22.49 22.00 22.49 22.00 22.07 22.00 22.07 22.00 22.55 22.00 22.55 22.00 22.29 22.00 22.29 22.00 22.29 22.00 22.29 22.00 22.29 22.00 21.88 22.00 23.26 22.00 20.53 22.00 21.31 22.00 22.47 22.00 21.91 22.00 22.55 22.00 22.16 22.00 21.98 22.00 22.02 22.00 23.27 22.00 21.66 22.00 21.87 22.00 23.36 22.00 21.63 22.00 21.86 22.00 22.37 22.00 23.08 22.00 21.93 22.00 22.58 22.00 20.56 22.00 24.45 22.00 22.72 22.00 22.38 22.00 22.09 22.00 21.35 22.00 23.07 22.00 22.07 22.00 21.98 22.00 21.58 22.00 21.64 22.00 22.29 22.00 22.27 22.00 22.19 22.00 19.08 22.00 24.32 22.00 23.36 22.00 22.88 22.00 22.11 22.00 22.00 22.00 1000.00"/>
<text x="202.8" y="1404.2" font-family="Liberation Sans, sans-serif" font-size="62" fill="#595959" text-anchor="end">0</text>
<text x="202.8" y="1270.6" font-family="Liberation Sans, sans-serif" font-size="62" fill="#595959" text-anchor="end">5</text>
<text x="202.8" y="1137" font-family="Liberation Sans, sans-serif" font-size="62" fill="#595959" text-anchor="end">10</text>
<text x="202.8" y="1003.4" font-family="Liberation Sans, sans-serif" font-size="62" fill="#595959" text-anchor="end">15</text>
<text x="202.8" y="869.8" font-family="Liberation Sans, sans-serif" font-size="62" fill="#595959" text-anchor="end">20</text>
<text x="202.8" y="736.2" font-family="Liberation Sans, sans-serif" font-size="62" fill="#595959" text-anchor="end">25</text>
<text x="202.8" y="602.6" font-family="Liberation Sans, sans-serif" font-size="62" fill="#595959" text-anchor="end">30</text>
<text x="202.8" y="469" font-family="Liberation Sans, sans-serif" font-size="62" fill="#595959" text-anchor="end">35</text>
<text x="202.8" y="335.4" font-family="Liberation Sans, sans-serif" font-size="62" fill="#595959" text-anchor="end">40</text>
<text x="202.8" y="201.8" font-family="Liberation Sans, sans-serif" font-size="62" fill="#595959" text-anchor="end">45</text>
<text x="202.8" y="68.2" font-family="Liberation Sans, sans-serif" font-size="62" fill="#595959" text-anchor="end">50</text>
<text transform="translate(265.5,1491.4) scale(1.028,1)" font-family="Liberation Sans, sans-serif" font-size="62" fill="#595959" text-anchor="middle">7/17, 0:00</text>
<text transform="translate(727.5,1491.4) scale(1.028,1)" font-family="Liberation Sans, sans-serif" font-size="62" fill="#595959" text-anchor="middle">7/17, 12:00</text>
<text transform="translate(1189.5,1491.4) scale(1.028,1)" font-family="Liberation Sans, sans-serif" font-size="62" fill="#595959" text-anchor="middle">7/18, 0:00</text>
<text transform="translate(1651.5,1491.4) scale(1.028,1)" font-family="Liberation Sans, sans-serif" font-size="62" fill="#595959" text-anchor="middle">7/18, 12:00</text>
<text transform="translate(2113.5,1491.4) scale(1.028,1)" font-family="Liberation Sans, sans-serif" font-size="62" fill="#595959" text-anchor="middle">7/19, 0:00</text>
<text transform="translate(286.9,395.7) scale(0.9451069400630915,1)" font-family="Liberation Sans, sans-serif" font-size="63.4" font-weight="bold" fill="#a5a5a5">Air Temperature</text>
<text transform="translate(1084.1,473.1) scale(0.92,1)" font-family="Liberation Sans, sans-serif" font-size="63.6" font-weight="bold" fill="#4a74bf">AZMET Station</text>
<text transform="translate(1085.3,552.5) scale(0.9449844355504733,1)" font-family="Liberation Sans, sans-serif" font-size="63.6" font-weight="bold" fill="#4a74bf">Temperature</text>
<text transform="translate(612.9,766.9) scale(0.9161390953298467,1)" font-family="Liberation Sans, sans-serif" font-size="63.0" font-weight="bold" fill="#f4c142">Raceway Pond</text>
<text transform="translate(612.9,846.9) scale(0.952648174870397,1)" font-family="Liberation Sans, sans-serif" font-size="63.0" font-weight="bold" fill="#f4c142">Temperature</text>
<text transform="translate(982.3,1599.8) scale(0.9380303655795604,1)" font-family="Liberation Sans, sans-serif" font-size="78" font-weight="bold" fill="#000">Time (Days)</text>
<g transform="translate(100.3,1002.3) rotate(-90)"><text transform="scale(0.9637,1)" font-family="Liberation Sans, sans-serif" font-size="78" font-weight="bold" fill="#000">Temperature</text></g>
<g transform="translate(74.2,514.4) rotate(-90)"><text transform="scale(0.9462,1)" font-family="Liberation Sans, sans-serif" font-size="68" font-weight="bold" fill="#000">o</text></g>
<g transform="translate(100.2,475) rotate(-90)"><text transform="scale(0.7830,1)" font-family="Liberation Sans, sans-serif" font-size="78" font-weight="bold" fill="#000">C</text></g>
</svg>
</body></html>
